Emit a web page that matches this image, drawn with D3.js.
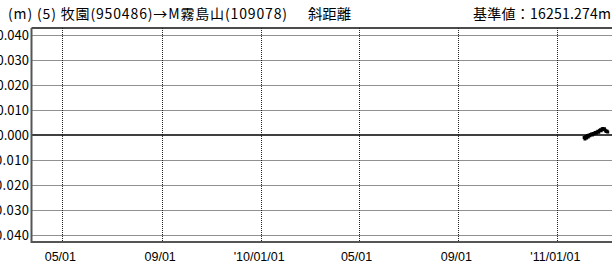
<!DOCTYPE html>
<html><head><meta charset="utf-8">
<script src="https://cdn.jsdelivr.net/npm/d3@7"></script>
<style>
html,body{margin:0;padding:0;background:#fff;overflow:hidden}
svg{display:block}
</style></head>
<body>
<svg id="c" width="612" height="264"></svg>
<script>
const titleLeft = "(m) (5) 牧園(950486)→M霧島山(109078)";
const titleMid = "斜距離";
const titleRight = "基準値：16251.274m";
const yTicks = [0.04, 0.03, 0.02, 0.01, 0, -0.01, -0.02, -0.03, -0.04];
const yTickLabels = ["0.040","0.030","0.020","0.010","0.000","-0.010","-0.020","-0.030","-0.040"];
const xTickDates = ["2009-05-01","2009-09-01","2010-01-01","2010-05-01","2010-09-01","2011-01-01"];
const xTickLabels = ["05/01","09/01","'10/01/01","05/01","09/01","'11/01/01"];
const obsDates = ["2011-02-03","2011-02-04","2011-02-05","2011-02-06","2011-02-07","2011-02-08","2011-02-09","2011-02-10","2011-02-11","2011-02-12","2011-02-13","2011-02-14","2011-02-15","2011-02-16","2011-02-17","2011-02-18","2011-02-19","2011-02-20","2011-02-21","2011-02-22","2011-02-23","2011-02-24","2011-02-25","2011-02-26","2011-02-27","2011-02-28","2011-03-01","2011-03-02","2011-03-03","2011-03-04"];
const obsValues = [-0.0010,-0.0016,-0.0006,-0.0012,-0.0002,-0.0008,0.0000,-0.0003,0.0002,0.0004,0.0000,0.0006,0.0004,0.0008,0.0010,0.0007,0.0012,0.0015,0.0011,0.0018,0.0021,0.0017,0.0024,0.0026,0.0022,0.0025,0.0019,0.0014,0.0016,0.0012];

const parse = d3.utcParse("%Y-%m-%d");
const svg = d3.select("#c");
const L = 31.5, R = 615, T = 28, B = 242;
const x = d3.scaleUtc().domain([parse("2009-03-24"), parse("2011-03-13")]).range([L, R]);
const y = d3.scaleLinear().domain([-0.0429, 0.0429]).range([B, T]);

// horizontal grid
svg.append("g").selectAll("line").data(yTicks.filter(v => v !== 0)).join("line")
  .attr("x1", L).attr("x2", R)
  .attr("y1", d => Math.round(y(d)) + 0.5).attr("y2", d => Math.round(y(d)) + 0.5)
  .attr("stroke", "#222").attr("stroke-width", 1).attr("stroke-dasharray", "1,1");
// vertical grid
svg.append("g").selectAll("line").data(xTickDates).join("line")
  .attr("x1", d => Math.round(x(parse(d))) + 0.5).attr("x2", d => Math.round(x(parse(d))) + 0.5)
  .attr("y1", T).attr("y2", B)
  .attr("stroke", "#222").attr("stroke-width", 1).attr("stroke-dasharray", "1,1");
// zero line
svg.append("line").attr("x1", L).attr("x2", R).attr("y1", y(0)).attr("y2", y(0))
  .attr("stroke", "#000").attr("stroke-width", 1.5);
// borders
svg.append("line").attr("x1", L).attr("x2", R).attr("y1", T).attr("y2", T)
  .attr("stroke", "#111").attr("stroke-width", 1.5);
svg.append("line").attr("x1", L).attr("x2", R).attr("y1", B).attr("y2", B)
  .attr("stroke", "#555").attr("stroke-width", 2);
svg.append("line").attr("x1", L).attr("x2", L).attr("y1", T).attr("y2", B + 1)
  .attr("stroke", "#555").attr("stroke-width", 2);

// y labels
svg.append("g").selectAll("text").data(yTicks).join("text")
  .attr("x", 29).attr("y", d => y(d) + 5)
  .attr("text-anchor", "end")
  .attr("font-family", "Noto Sans CJK JP, sans-serif")
  .attr("font-size", 13).attr("fill", "#000")
  .attr("textLength", (d, i) => yTickLabels[i].length * 6.5)
  .attr("lengthAdjust", "spacing")
  .text((d, i) => yTickLabels[i]);

// x labels
svg.append("g").selectAll("text").data(xTickDates).join("text")
  .attr("x", d => x(parse(d)) - 2).attr("y", 261)
  .attr("text-anchor", "middle")
  .attr("font-family", "Liberation Sans, Arial, sans-serif")
  .attr("font-size", 12.5).attr("fill", "#000")
  .text((d, i) => xTickLabels[i]);

// data
const pts = obsDates.map((d, i) => ({ d: parse(d), v: obsValues[i] }));
svg.append("path").datum(pts)
  .attr("fill", "none").attr("stroke", "#000").attr("stroke-width", 1)
  .attr("d", d3.line().x(p => x(p.d)).y(p => y(p.v)));
svg.append("g").selectAll("rect").data(pts).join("rect")
  .attr("x", p => x(p.d) - 1.5).attr("y", p => y(p.v) - 1.5)
  .attr("width", 3).attr("height", 3).attr("fill", "#000");

// titles
const tf = "Noto Sans CJK JP, sans-serif";
svg.append("text").attr("x", 8).attr("y", 19).attr("font-family", tf).attr("font-size", 14)
  .attr("textLength", 279).attr("lengthAdjust", "spacing").attr("fill", "#000").text(titleLeft);
svg.append("text").attr("x", 308).attr("y", 19).attr("font-family", tf).attr("font-size", 14)
  .attr("textLength", 43).attr("lengthAdjust", "spacingAndGlyphs").attr("fill", "#000").text(titleMid);
svg.append("text").attr("x", 473).attr("y", 19).attr("font-family", tf).attr("font-size", 14)
  .attr("textLength", 138).attr("lengthAdjust", "spacing").attr("fill", "#000").text(titleRight);
</script>
</body></html>
